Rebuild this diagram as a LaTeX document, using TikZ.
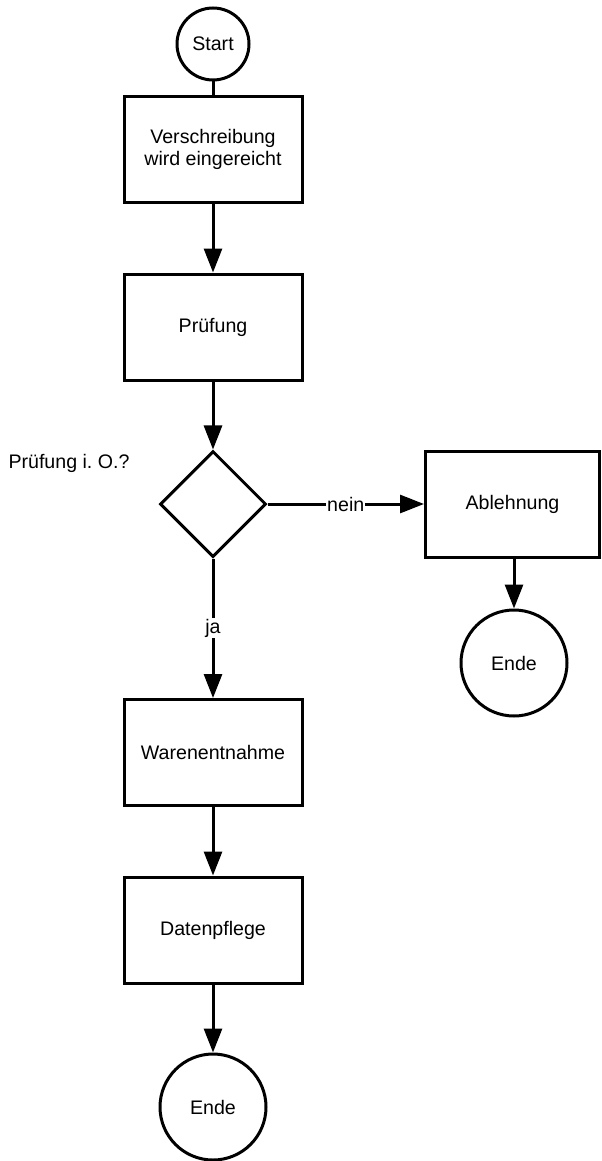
\documentclass[tikz,border=0pt]{standalone}
\usepackage{fontspec}
\setmainfont{Liberation Sans}
\usepackage{tikz}
\usetikzlibrary{shapes.geometric,arrows.meta,positioning}
\frenchspacing

\begin{document}
\begin{tikzpicture}[x=0.5pt, y=-0.5pt, line width=1.5pt,
    every node/.style={font=\fontsize{9.8}{11}\selectfont},
    procbox/.style={draw, minimum width=89pt, minimum height=53pt, align=center},
    endcircle/.style={draw, circle, inner sep=0pt, minimum size=53pt},
    flow/.style={-{Triangle[length=12pt, width=9pt]}},
    edgelabel/.style={fill=white, inner sep=0.5pt}]
    \useasboundingbox (0,0) rectangle (601,1161);

    % Start
    \node[draw, circle, inner sep=0pt, minimum size=36pt] (start) at (213,44) {Start};
    \node[procbox] (verschr) at (213,149.5) {Verschreibung\\wird eingereicht};
    \node[procbox] (pruefung) at (213,327) {Prüfung};

    % Decision
    \node[draw, diamond, inner sep=0pt, minimum size=53pt] (entscheid) at (213,504) {};
    \node (frage) at (69,463) {Prüfung i. O.?};

    % nein branch
    \node[procbox, minimum width=87pt] (ablehnung) at (512.5,504) {Ablehnung};
    \node[endcircle] (ende2) at (514,663) {Ende};

    % ja branch
    \node[procbox] (waren) at (213,752.5) {Warenentnahme};
    \node[procbox] (daten) at (213,930) {Datenpflege};
    \node[endcircle] (ende1) at (213,1107) {Ende};

    % Arrows
    \draw (start) -- (verschr);
    \draw[flow] (verschr) -- (pruefung);
    \draw[flow] (pruefung) -- (entscheid);
    \draw[flow] (entscheid) -- node[edgelabel] {nein} (ablehnung);
    \draw[flow] (ablehnung.south -| ende2) -- (ende2);
    \draw[flow] (entscheid) -- node[edgelabel] {ja} (waren);
    \draw[flow] (waren) -- (daten);
    \draw[flow] (daten) -- (ende1);
\end{tikzpicture}
\end{document}
